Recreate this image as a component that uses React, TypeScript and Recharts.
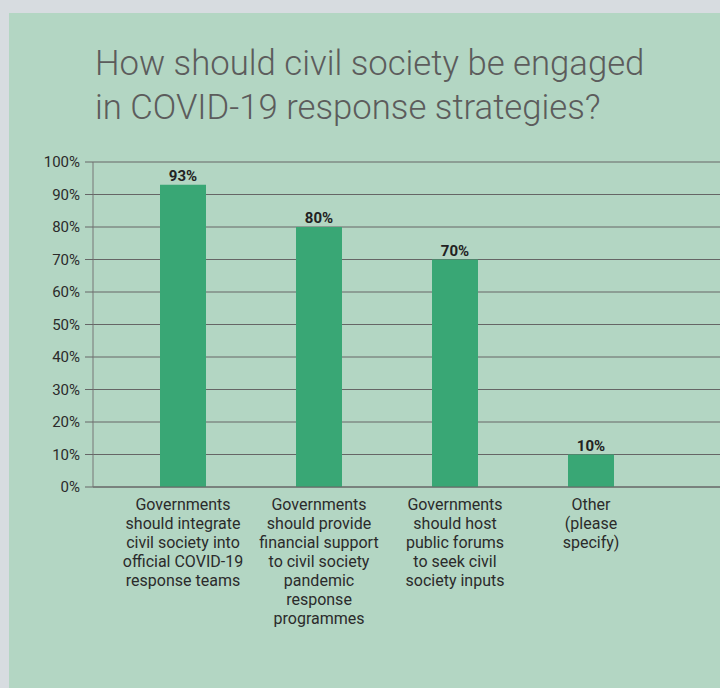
import React from "react";
import { BarChart, Bar, XAxis, YAxis, CartesianGrid, LabelList } from "recharts";

const categories = [
  "Governments\nshould integrate\ncivil society into\nofficial COVID-19\nresponse teams",
  "Governments\nshould provide\nfinancial support\nto civil society\npandemic\nresponse\nprogrammes",
  "Governments\nshould host\npublic forums\nto seek civil\nsociety inputs",
  "Other\n(please\nspecify)",
];
const values = [93, 80, 70, 10];
const yTicks = [0, 10, 20, 30, 40, 50, 60, 70, 80, 90, 100];
const titleLines = ["How should civil society be engaged", "in COVID-19 response strategies?"];

const data = categories.map((c, i) => ({ name: c, value: values[i] }));

const FONT = "Roboto, 'Noto Sans', sans-serif";

const CategoryTick = (props: any) => {
  const { x, y, payload } = props;
  const lines = String(payload.value).split("\n");
  return (
    <g transform={`translate(${x},${y})`}>
      <text textAnchor="middle" fill="#2b2b2b" fontSize={16} fontFamily={FONT}>
        {lines.map((l, i) => (
          <tspan key={i} x={0} y={15 + i * 19}>
            {l}
          </tspan>
        ))}
      </text>
    </g>
  );
};

export default function App() {
  return (
    <div
      style={{
        position: "absolute",
        left: 0,
        top: 0,
        width: 720,
        height: 688,
        background: "#d7dce0",
        overflow: "hidden",
      }}
    >
      <div
        style={{
          position: "absolute",
          left: 9,
          top: 13,
          width: 711,
          height: 675,
          background: "#b3d6c3",
        }}
      />
      <div
        style={{
          position: "absolute",
          left: 95,
          top: 0,
          fontFamily: FONT,
          fontWeight: 300,
          fontSize: 34.7,
          color: "#5c5c5c",
          whiteSpace: "nowrap",
        }}
      >
        {titleLines.map((t, i) => (
          <div key={i} style={{ position: "absolute", left: 0, top: 41 + i * 44, lineHeight: "44px" }}>
            {t}
          </div>
        ))}
      </div>
      <div style={{ position: "absolute", left: 0, top: 0 }}>
        <BarChart
          width={760}
          height={688}
          data={data}
          margin={{ top: 162, right: 20, bottom: 0, left: 0 }}
        >
          <CartesianGrid vertical={false} stroke="#666" strokeWidth={1} />
          <XAxis
            dataKey="name"
            interval={0}
            tickLine={false}
            axisLine={{ stroke: "#666" }}
            padding={{ left: 22, right: 81 }}
            tick={<CategoryTick />}
            height={201}
          />
          <YAxis
            width={93}
            domain={[0, 100]}
            ticks={yTicks}
            interval={0}
            tickFormatter={(v: number) => `${v}%`}
            tickSize={8}
            tickMargin={5}
            tickLine={{ stroke: "#666" }}
            axisLine={{ stroke: "#777" }}
            tick={{ fill: "#2b2b2b", fontSize: 15, fontFamily: FONT }}
          />
          <Bar dataKey="value" fill="#39a775" barSize={46} isAnimationActive={false}>
            <LabelList
              dataKey="value"
              position="top"
              offset={4}
              formatter={(v: number) => `${v}%`}
              style={{ fill: "#222", fontSize: 15, fontWeight: 700, fontFamily: FONT }}
            />
          </Bar>
        </BarChart>
      </div>
    </div>
  );
}
